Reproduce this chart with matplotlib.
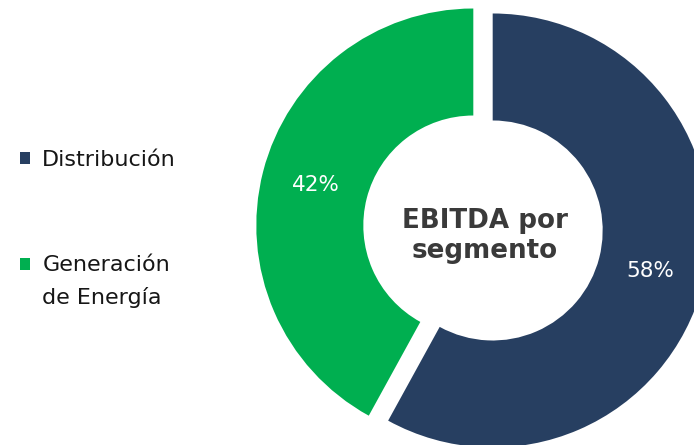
import matplotlib
matplotlib.use("Agg")
import matplotlib.pyplot as plt

# EBITDA split by segment
segments = ["Distribución", "Generación\nde Energía"]
shares = [58, 42]
colors = ["#273f61", "#00af50"]
center_title = "EBITDA por\nsegmento"

plt.rcParams["font.family"] = ["DejaVu Sans"]

fig = plt.figure(figsize=(6.94, 4.45), dpi=100)
ax = fig.add_axes([0, 0, 1, 1])

# pixel-like data coords so the ring can run off the right edge like the original
wedges, _, pct_texts = ax.pie(
    shares,
    colors=colors,
    startangle=90,
    counterclock=False,
    center=(483, 217),
    radius=217,
    explode=[10, 10],
    autopct="%d%%",
    pctdistance=0.75,
    wedgeprops=dict(width=107, linewidth=0),
    textprops=dict(color="white", fontsize=15.5),
)

ax.text(485, 209, center_title, ha="center", va="center",
        fontsize=18.8, fontweight="bold", color="#3a3a3a", linespacing=1.15)

ax.set_xlim(0, 694)
ax.set_ylim(0, 445)
ax.set_aspect("equal")
ax.axis("off")

leg = ax.legend(wedges, segments, loc="upper left", bbox_to_anchor=(0.029, 0.664),
                frameon=False, fontsize=16, handlelength=0.45, handleheight=0.45,
                handletextpad=0.55, labelspacing=3.86, borderpad=0, borderaxespad=0)
for t in leg.get_texts():
    t.set_linespacing(1.7)
    t.set_color("#161616")
# square sits next to the first line of a two-line label, not the middle
leg.legend_handles[1].set_y(leg.legend_handles[1].get_y() + 12.8)

fig.savefig("out.png", dpi=100)
